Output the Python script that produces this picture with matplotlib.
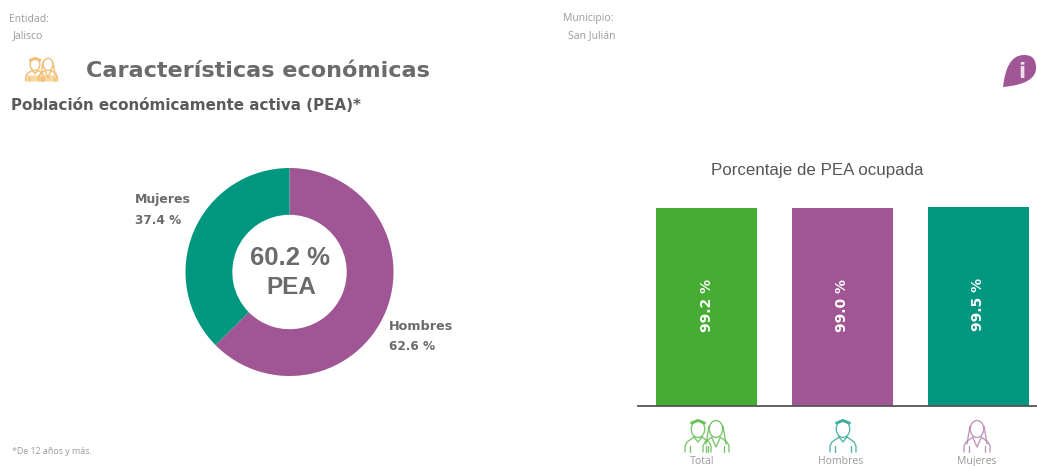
import matplotlib
matplotlib.use("Agg")
import matplotlib.pyplot as plt
from matplotlib.patches import Ellipse, PathPatch, FancyBboxPatch
from matplotlib.path import Path

W, H = 1037, 466
PEA_LABELS = ["Hombres", "Mujeres"]
PEA_VALUES = [62.6, 37.4]
PEA_TOTAL = "60.2 %"
BAR_LABELS = ["Total", "Hombres", "Mujeres"]
BAR_VALUES = [99.2, 99.0, 99.5]
PURPLE, TEAL, GREEN = "#a05595", "#009781", "#46ac34"
BAR_COLORS = [GREEN, PURPLE, TEAL]
GREY = "#6b6b6b"
LIGHT = "#9a9a9a"

plt.rcParams["font.family"] = ["Liberation Sans", "DejaVu Sans"]
fig = plt.figure(figsize=(W / 100, H / 100), dpi=100, facecolor="white")

def rect(x0, y0, x1, y1):
    return [x0 / W, 1 - y1 / H, (x1 - x0) / W, (y1 - y0) / H]

bg = fig.add_axes([0, 0, 1, 1])
bg.set_xlim(0, W); bg.set_ylim(H, 0); bg.axis("off")
T = bg.text

# Header
T(9, 19, "Entidad:", fontsize=7.5, color=LIGHT, family="Open Sans", va="center")
T(13, 36, "Jalisco", fontsize=7.5, color=LIGHT, family="Open Sans", va="center")
T(563, 19, "Municipio:", fontsize=7.5, color=LIGHT, family="Open Sans", va="center")
T(568, 36, "San Julián", fontsize=7.5, color=LIGHT, family="Open Sans", va="center")
T(86, 71, "Características económicas", fontsize=16.1, color=GREY, weight="bold",
  family="DejaVu Sans", va="center")
T(11, 106, "Población económicamente activa (PEA)*", fontsize=10.9, color="#5a5a5a",
  weight="bold", family="DejaVu Sans", va="center")
T(12, 451, "*De 12 años y más.", fontsize=6.4, color=LIGHT, family="Open Sans", va="center")
T(817, 171, "Porcentaje de PEA ocupada", fontsize=12.2, color="#555555", family="Liberation Sans",
  ha="center", va="center")

# Donut
ax = fig.add_axes(rect(185.5, 168, 393.5, 376))
ax.pie(PEA_VALUES, colors=[PURPLE, TEAL], startangle=90, counterclock=False, radius=1,
       wedgeprops=dict(width=0.45, edgecolor="none"))
ax.set_xlim(-1, 1); ax.set_ylim(-1, 1)
T(290, 258, PEA_TOTAL, fontsize=18.5, color=GREY, weight="bold", ha="center", va="center")
T(291, 288, "PEA", fontsize=17.5, color=GREY, weight="bold", ha="center", va="center")
T(135, 200, PEA_LABELS[1], fontsize=9, color=GREY, weight="bold", va="center", family="DejaVu Sans")
T(135, 220, f"{PEA_VALUES[1]} %", fontsize=8.7, color=GREY, va="center", weight="bold", family="DejaVu Sans")
T(389, 326, PEA_LABELS[0], fontsize=9.2, color=GREY, weight="bold", va="center", family="DejaVu Sans")
T(389, 347, f"{PEA_VALUES[0]} %", fontsize=8.7, color=GREY, va="center", weight="bold", family="DejaVu Sans")

# Bars
bx = fig.add_axes(rect(638, 168, 1037, 406))
xs = list(range(len(BAR_VALUES)))
bars = bx.bar(xs, BAR_VALUES, width=0.744, color=BAR_COLORS)
bx.set_xlim(-0.505, 2.434)
bx.set_ylim(0, 119.2)
bx.set_yticks([]); bx.set_xticks([])
bx.patch.set_alpha(0)
for s in ("top", "left", "right"):
    bx.spines[s].set_visible(False)
bx.spines["bottom"].set_color("#555555"); bx.spines["bottom"].set_linewidth(1.3)
for x, v in zip(xs, BAR_VALUES):
    bx.text(x, v / 2 + 1, f"{v} %", rotation=90, color="white", fontsize=10, weight="bold",
            ha="center", va="center", family="DejaVu Sans")

# Person icons drawn in pixel coordinates
def person(cx, top, col, hair=False, s=1.0, a=.8):
    lw = 1.0
    def line(xo, yo, w=lw):
        bg.plot([cx + i * s for i in xo], [top + j * s for j in yo], color=col, lw=w, alpha=a,
                solid_capstyle="round")
    bg.add_patch(Ellipse((cx, top + 9 * s), 13.5 * s, 17 * s, fill=False, ec=col, lw=lw, alpha=a))
    if hair:
        line([-7, -9, -10], [6, 18, 24])
        line([7, 9, 10], [6, 18, 24])
        line([-4, 0, 4], [18, 27, 18])
    else:
        line([-6.5, 0, 6.5], [3, 0.5, 3], 2.2)
        line([-4, 0, 4], [17, 22, 17])
    line([-13, -13, -11, -4], [32, 26, 22, 17])
    line([13, 13, 11, 4], [32, 26, 22, 17])
    line([-8, -8], [32, 26])
    line([8, 8], [32, 26])

person(698, 420, "#5cba4c", False)
person(716, 420, "#5cba4c", True)
person(843, 420, "#2ea596", False)
person(977, 420, "#b37fb0", True)
for x, lab in zip((702, 841, 977), BAR_LABELS):
    T(x, 464, lab, fontsize=7.6, color=LIGHT, family="Open Sans", ha="center", va="baseline")

# Orange header icon
oc = "#f2be73"
person(35, 58, oc, False, .72, 1)
person(48, 58, oc, True, .72, 1)
bg.add_patch(FancyBboxPatch((27, 76), 30, 5, boxstyle="round,pad=0.5", fc="#f8d7a0", ec="none"))

# Info icon
verts = [(1003, 87), (1005, 70), (1010, 55), (1024, 55), (1033, 55), (1036, 60), (1036, 68),
         (1036, 78), (1026, 85), (1003, 87), (1003, 87)]
codes = [Path.MOVETO, Path.CURVE4, Path.CURVE4, Path.CURVE4, Path.CURVE4, Path.CURVE4, Path.CURVE4,
         Path.CURVE4, Path.CURVE4, Path.CURVE4, Path.CLOSEPOLY]
bg.add_patch(PathPatch(Path(verts, codes), fc=PURPLE, ec="none"))
T(1022, 72, "i", fontsize=15, color="#eedfeb", weight="bold", ha="center", va="center", family="DejaVu Sans")

fig.savefig("out.png", dpi=100, facecolor="white")
